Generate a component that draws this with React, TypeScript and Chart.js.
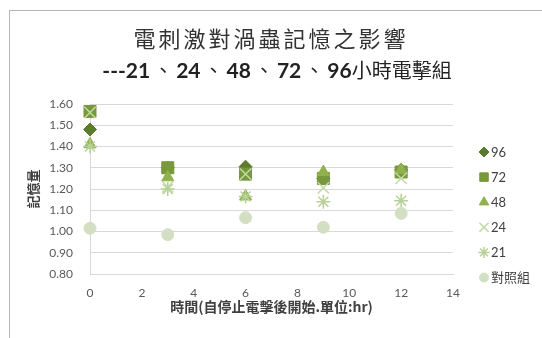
import { useEffect, useRef } from "react";
import { Chart, registerables } from "chart.js";
import { drawPoint } from "chart.js/helpers";

Chart.register(...registerables);

// Hours after the electric stimulation stopped
const hours = [0, 3, 6, 9, 12];

// Memory score per group
const group96 = [1.48, 1.3, 1.305, 1.25, 1.29];
const group72 = [1.565, 1.3, 1.27, 1.25, 1.28];
const group48 = [1.41, 1.255, 1.165, 1.28, 1.29];
const group24 = [1.56, 1.21, 1.27, 1.205, 1.25];
const group21 = [1.4, 1.2, 1.165, 1.14, 1.145];
const controlGroup = [1.015, 0.985, 1.065, 1.02, 1.085];

const seriesLabels = ["96", "72", "48", "24", "21", "對照組"];
const seriesValues = [group96, group72, group48, group24, group21, controlGroup];

const xTickValues = [0, 2, 4, 6, 8, 10, 12, 14];
const yTickValues = [0.8, 0.9, 1.0, 1.1, 1.2, 1.3, 1.4, 1.5, 1.6];

const titleLine1 = "電刺激對渦蟲記憶之影響";
const titleLine2Parts = ["---21", "、", "24", "、", "48", "、", "72", "、", "96", "小時電擊組"];
const yTitle = "記憶量";
const xTitle = "時間(自停止電擊後開始.單位:hr)";

const styles = [
  { pointStyle: "rectRot", color: "#5c7c2d", radius: 6.5, legendRadius: 5, width: 1 },
  { pointStyle: "rect", color: "#77983b", radius: 8.5, legendRadius: 6, width: 1 },
  { pointStyle: "triangle", color: "#8fb24e", radius: 7, legendRadius: 5.5, width: 1 },
  { pointStyle: "crossRot", color: "#c4d9a8", radius: 8, legendRadius: 6.5, width: 1.5 },
  { pointStyle: "star", color: "#b7d199", radius: 7, legendRadius: 5.5, width: 1.5 },
  { pointStyle: "circle", color: "#d3dfc3", radius: 6, legendRadius: 4.5, width: 1 },
];

const LATIN = '"Lato", "Noto Sans CJK TC", sans-serif';
const CJK = '"Noto Sans CJK TC", "Lato", sans-serif';

const legendPlugin = {
  id: "sideLegend",
  afterDraw(chart: any) {
    const ctx = chart.ctx as CanvasRenderingContext2D;
    const markerX = 484;
    const textX = 491;
    const top = 152;
    const step = 25.1;
    ctx.save();
    seriesLabels.forEach((label, i) => {
      const s = styles[i];
      const y = top + i * step;
      ctx.fillStyle = s.color;
      ctx.strokeStyle = s.color;
      ctx.lineWidth = s.width;
      drawPoint(ctx, { pointStyle: s.pointStyle as any, radius: s.legendRadius, rotation: 0, borderWidth: s.width }, markerX, y);
      ctx.fillStyle = "#404040";
      ctx.font = `13px ${LATIN}`;
      ctx.textBaseline = "middle";
      ctx.textAlign = "left";
      ctx.fillText(label, textX, y + 0.5);
    });
    ctx.restore();
  },
};

export default function App() {
  const canvasRef = useRef<HTMLCanvasElement | null>(null);

  useEffect(() => {
    const canvas = canvasRef.current;
    if (!canvas) return;
    const chart = new Chart(canvas, {
      type: "scatter",
      data: {
        datasets: seriesValues.map((vals, i) => ({
          label: seriesLabels[i],
          data: hours.map((h, j) => ({ x: h, y: vals[j] })),
          pointStyle: styles[i].pointStyle as any,
          pointRadius: styles[i].radius,
          pointBackgroundColor: styles[i].color,
          pointBorderColor: styles[i].color,
          pointBorderWidth: styles[i].width,
          showLine: false,
          clip: false as any,
          order: seriesLabels.length - i,
        })),
      },
      options: {
        responsive: false,
        animation: false,
        layout: { padding: { top: 104, right: 89, left: 0, bottom: 0 } },
        plugins: {
          legend: { display: false },
          tooltip: { enabled: false },
          title: { display: false },
        },
        scales: {
          x: {
            type: "linear",
            min: 0,
            max: 14,
            afterBuildTicks: (axis: any) => {
              axis.ticks = xTickValues.map((v) => ({ value: v }));
            },
            afterFit: (axis: any) => {
              axis.height = 64;
            },
            grid: { display: false, drawTicks: false },
            border: { display: true, color: "#d9d9d9", width: 1 },
            ticks: {
              padding: 12,
              color: "#595959",
              font: { family: LATIN, size: 12 },
              maxRotation: 0,
              callback: (v: any) => String(v),
            },
            title: {
              display: true,
              text: xTitle,
              color: "#404040",
              font: { family: CJK, size: 14, weight: "bold" },
              padding: { top: 0, bottom: 23 },
            },
          },
          y: {
            type: "linear",
            min: 0.8,
            max: 1.6,
            afterBuildTicks: (axis: any) => {
              axis.ticks = yTickValues.map((v) => ({ value: v }));
            },
            afterFit: (axis: any) => {
              axis.width = 90;
            },
            grid: { color: "#d9d9d9", lineWidth: 1, drawTicks: false },
            border: { display: true, color: "#d9d9d9", width: 1 },
            ticks: {
              padding: 17,
              color: "#595959",
              font: { family: LATIN, size: 12 },
              callback: (v: any) => Number(v).toFixed(2),
            },
            title: {
              display: true,
              text: yTitle,
              color: "#404040",
              font: { family: CJK, size: 13, weight: "bold" },
              padding: { top: 25, bottom: 0 },
            },
          },
        },
      },
      plugins: [legendPlugin],
    });
    return () => chart.destroy();
  }, []);

  return (
    <div style={{ position: "fixed", left: 0, top: 0, width: 542, height: 338, background: "#ffffff", overflow: "hidden" }}>
      <div
        style={{
          position: "absolute",
          left: 9,
          top: 10,
          width: 600,
          height: 400,
          borderLeft: "1px solid #b5b5b5",
          borderTop: "1px solid #b5b5b5",
        }}
      />
      <canvas ref={canvasRef} width={542} height={338} style={{ position: "absolute", left: 0, top: 0 }} />
      <div
        style={{
          position: "absolute",
          left: 0,
          top: 24,
          width: 542,
          textAlign: "center",
          font: `22px ${CJK}`,
          lineHeight: "26px",
          letterSpacing: "3px",
          color: "#333333",
          whiteSpace: "nowrap",
        }}
      >
        {titleLine1}
      </div>
      <div
        style={{
          position: "absolute",
          left: 6,
          top: 55,
          width: 542,
          textAlign: "center",
          lineHeight: "26px",
          color: "#222222",
          whiteSpace: "nowrap",
        }}
      >
        {titleLine2Parts.map((p, i) => {
          const isCjk = /[^\x00-\x7f]/.test(p);
          return (
            <span
              key={i}
              style={{
                font: isCjk ? `20px ${CJK}` : `bold 21px ${LATIN}`,
                margin: p === "、" ? "0 3px" : undefined,
              }}
            >
              {p}
            </span>
          );
        })}
      </div>
    </div>
  );
}
